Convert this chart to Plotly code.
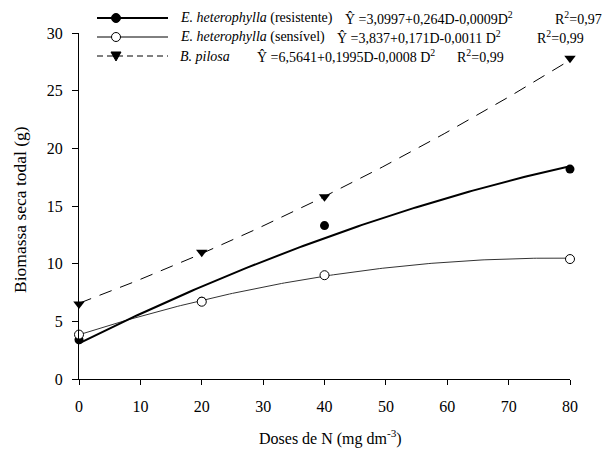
import numpy as np
import plotly.graph_objects as go

# ---- data ----
doses = [0, 20, 40, 80]
res_obs = [3.4, 6.75, 13.3, 18.2]     # E. heterophylla (resistente)
sen_obs = [3.85, 6.7, 9.0, 10.4]      # E. heterophylla (sensível)
pil_obs = [6.5, 11.0, 15.8, 27.8]     # B. pilosa

# regression coefficients (a, b, c) printed on the chart: Y = a + b*D + c*D^2
res_coef = [3.0997, 0.264, -0.0009]
sen_coef = [3.837, 0.171, -0.0011]
pil_coef = [6.5641, 0.1995, 0.0008]   # drawn curve bends upward

x_ticks = [0, 10, 20, 30, 40, 50, 60, 70, 80]
y_ticks = [0, 5, 10, 15, 20, 25, 30]

FONT = "Times New Roman"
W, H = 606, 453
L, R, T, B = 79, 570, 33, 379

def px(x):
    return (x - L) / (R - L)

def py(y):
    return (B - y) / (B - T)

dd = np.linspace(0, 80, 161)

def curve(c):
    return c[0] + c[1] * dd + c[2] * dd ** 2

fig = go.Figure()
# fitted curves
fig.add_trace(go.Scatter(x=dd, y=curve(pil_coef), mode="lines",
                         line=dict(color="black", width=1, dash="13px,9px"), showlegend=False))
fig.add_trace(go.Scatter(x=dd, y=curve(sen_coef), mode="lines",
                         line=dict(color="#333", width=1), showlegend=False))
fig.add_trace(go.Scatter(x=dd, y=curve(res_coef), mode="lines",
                         line=dict(color="black", width=2), showlegend=False))
# observed points
fig.add_trace(go.Scatter(x=doses, y=pil_obs, mode="markers", cliponaxis=False,
                         marker=dict(symbol="triangle-down", size=10, color="black"), showlegend=False))
fig.add_trace(go.Scatter(x=doses, y=res_obs, mode="markers", cliponaxis=False,
                         marker=dict(symbol="circle", size=9, color="black"), showlegend=False))
fig.add_trace(go.Scatter(x=doses, y=sen_obs, mode="markers", cliponaxis=False,
                         marker=dict(symbol="circle", size=9, color="white",
                                     line=dict(color="black", width=1)), showlegend=False))

shapes = []
annotations = []
rows = [18, 37, 56]
lx0, lx1, mx = 97, 168, 116
styles = [dict(width=2, dash="solid"), dict(width=1, dash="solid"), dict(width=1, dash="6px,4px")]
for ry, st in zip(rows, styles):
    shapes.append(dict(type="line", xref="paper", yref="paper", x0=px(lx0), x1=px(lx1),
                       y0=py(ry), y1=py(ry), line=dict(color="black", **st)))
# legend markers
shapes.append(dict(type="circle", xref="paper", yref="paper",
                   x0=px(mx - 4.5), x1=px(mx + 4.5), y0=py(rows[0] + 4.5), y1=py(rows[0] - 4.5),
                   fillcolor="black", line=dict(color="black", width=1)))
shapes.append(dict(type="circle", xref="paper", yref="paper",
                   x0=px(mx - 4.5), x1=px(mx + 4.5), y0=py(rows[1] + 4.5), y1=py(rows[1] - 4.5),
                   fillcolor="white", line=dict(color="black", width=1)))
shapes.append(dict(type="path", xref="paper", yref="paper",
                   path="M{:.5f},{:.5f} L{:.5f},{:.5f} L{:.5f},{:.5f} Z".format(
                       px(mx - 5), py(rows[2] - 4), px(mx + 5), py(rows[2] - 4), px(mx), py(rows[2] + 5)),
                   fillcolor="black", line=dict(color="black", width=1)))

def txt(x, y, s, size=14):
    annotations.append(dict(x=px(x), y=py(y), xref="paper", yref="paper", text=s, showarrow=False,
                            xanchor="left", yanchor="middle", font=dict(family=FONT, size=size, color="black")))

txt(178, rows[0], "<i>E. heterophylla</i> (resistente)")
txt(343, rows[0], "Ŷ =3,0997+0,264D-0,0009D<sup>2</sup>")
txt(553, rows[0], "R<sup>2</sup>=0,97")
txt(178, rows[1], "<i>E. heterophylla</i> (sensível)")
txt(335, rows[1], "Ŷ =3,837+0,171D-0,0011 D<sup>2</sup>")
txt(535, rows[1], "R<sup>2</sup>=0,99")
txt(178, rows[2], "<i>B. pilosa</i>")
txt(255, rows[2], "Ŷ =6,5641+0,1995D-0,0008 D<sup>2</sup>")
txt(455, rows[2], "R<sup>2</sup>=0,99")

# axis titles
annotations.append(dict(x=px(330), y=py(438), xref="paper", yref="paper", showarrow=False,
                        text="Doses de N (mg dm<sup>-3</sup>)", xanchor="center", yanchor="middle",
                        font=dict(family=FONT, size=16, color="black")))
annotations.append(dict(x=px(20), y=py(210), xref="paper", yref="paper", showarrow=False,
                        text="Biomassa seca todal (g)", textangle=-90, xanchor="center", yanchor="middle",
                        font=dict(family=FONT, size=17.5, color="black")))

fig.update_layout(
    width=W, height=H, margin=dict(l=L, r=W - R, t=T, b=H - B),
    plot_bgcolor="white", paper_bgcolor="white",
    shapes=shapes, annotations=annotations,
    xaxis=dict(range=[0, 80], tickvals=x_ticks, showgrid=False, zeroline=False,
               showline=True, linecolor="black", linewidth=1, ticks="outside", ticklen=5,
               tickcolor="black", ticklabelstandoff=8,
               tickfont=dict(family=FONT, size=16, color="black")),
    yaxis=dict(range=[0, 30], tickvals=y_ticks, showgrid=False, zeroline=False,
               showline=True, linecolor="black", linewidth=1, ticks="outside", ticklen=6,
               tickcolor="black", ticklabelstandoff=6,
               tickfont=dict(family=FONT, size=16, color="black")),
)

fig.write_html("out.html")
